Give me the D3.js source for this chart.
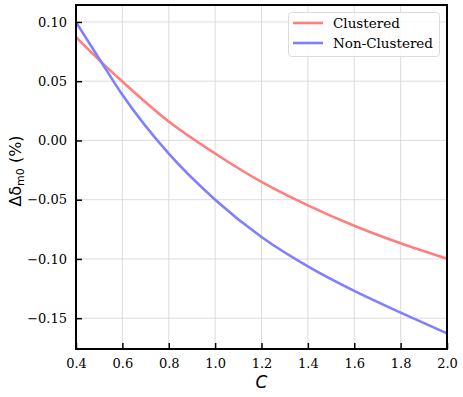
<!DOCTYPE html>
<html>
<head>
<meta charset="utf-8">
<script src="https://cdn.jsdelivr.net/npm/d3@7"></script>
<style>
  body { margin: 0; background: #fff; }
  svg { display: block; }
</style>
</head>
<body>
<div id="chart"></div>
<script>
// values
var cValues = [0.4, 0.5, 0.6, 0.8, 1.0, 1.2, 1.4, 1.6, 1.8, 2.0];
var clustered = [0.0871, 0.0678, 0.0497, 0.016, -0.011, -0.035, -0.0548, -0.072, -0.0868, -0.0998];
var nonClustered = [0.0998, 0.0690, 0.0385, -0.0112, -0.050, -0.0815, -0.1063, -0.127, -0.1453, -0.1628];
var seriesNames = ["Clustered", "Non-Clustered"];
var seriesColors = ["#ff7f7f", "#7f7fff"];
var xTicks = [0.4, 0.6, 0.8, 1.0, 1.2, 1.4, 1.6, 1.8, 2.0];
var yTicks = [-0.15, -0.10, -0.05, 0.00, 0.05, 0.10];

var width = 463, height = 397;
var m = {left: 76, right: 16, top: 5, bottom: 48};

var svg = d3.select("#chart").append("svg")
    .attr("width", width)
    .attr("height", height);

var x = d3.scaleLinear().domain([0.4, 2.0]).range([m.left, width - m.right]);
var y = d3.scaleLinear().domain([-0.176, 0.1143]).range([height - m.bottom, m.top]);

var serif = "'DejaVu Serif', serif";
var sans = "'DejaVu Sans', sans-serif";

// grid
svg.append("g").selectAll("line").data(xTicks).enter().append("line")
    .attr("x1", function(d) { return x(d); })
    .attr("x2", function(d) { return x(d); })
    .attr("y1", y.range()[0]).attr("y2", y.range()[1])
    .style("stroke", "#d3d3d3").style("stroke-width", 0.8);
svg.append("g").selectAll("line").data(yTicks).enter().append("line")
    .attr("y1", function(d) { return y(d); })
    .attr("y2", function(d) { return y(d); })
    .attr("x1", x.range()[0]).attr("x2", x.range()[1])
    .style("stroke", "#d3d3d3").style("stroke-width", 0.8);

// lines
var lineGen = d3.line()
    .x(function(d) { return x(d[0]); })
    .y(function(d) { return y(d[1]); })
    .curve(d3.curveMonotoneX);

var allSeries = [clustered, nonClustered];
svg.append("defs").append("clipPath").attr("id", "clip")
  .append("rect")
    .attr("x", m.left).attr("y", m.top)
    .attr("width", width - m.left - m.right)
    .attr("height", height - m.top - m.bottom);

svg.append("g").attr("clip-path", "url(#clip)")
  .selectAll("path").data(allSeries).enter().append("path")
    .attr("d", function(s) { return lineGen(s.map(function(v, i) { return [cValues[i], v]; })); })
    .style("fill", "none")
    .style("stroke", function(s, i) { return seriesColors[i]; })
    .style("stroke-width", 2.6);

// axes (ticks inward)
var fmt = function(d) { return d3.format(".2f")(d).replace("-", "\u2212"); };
var xAxis = svg.append("g")
    .attr("transform", "translate(0," + (height - m.bottom) + ")")
    .call(d3.axisBottom(x).tickValues(xTicks).tickSize(-6).tickPadding(10).tickFormat(d3.format(".1f")));
var yAxis = svg.append("g")
    .attr("transform", "translate(" + m.left + ",0)")
    .call(d3.axisLeft(y).tickValues(yTicks).tickSize(-6).tickPadding(9).tickFormat(fmt));

[xAxis, yAxis].forEach(function(a) {
  a.select(".domain").remove();
  a.selectAll(".tick line").style("stroke", "#000").style("stroke-width", 1.5);
  a.selectAll("text").style("font-family", serif).style("font-size", "13px").style("fill", "#000");
});

// frame
svg.append("rect")
    .attr("x", m.left).attr("y", m.top)
    .attr("width", width - m.left - m.right)
    .attr("height", height - m.top - m.bottom)
    .style("fill", "none").style("stroke", "#000").style("stroke-width", 2);

// axis labels
svg.append("text")
    .attr("x", (x.range()[0] + x.range()[1]) / 2)
    .attr("y", 388)
    .attr("text-anchor", "middle")
    .style("font-family", sans).style("font-style", "italic").style("font-size", "17px")
    .text("C");

var yl = svg.append("text")
    .attr("transform", "translate(21," + 171 + ") rotate(-90)")
    .attr("text-anchor", "middle")
    .style("font-family", sans).style("font-size", "16px");
yl.append("tspan").text("\u0394\u03b4");
yl.append("tspan").attr("dy", 3).style("font-size", "11px").text("m0");
yl.append("tspan").attr("dy", -3).text(" (%)");

// legend
var lg = svg.append("g");
lg.append("rect")
    .attr("x", 288.5).attr("y", 12.5).attr("width", 151).attr("height", 44)
    .attr("rx", 3)
    .style("fill", "rgba(255,255,255,0.85)").style("stroke", "#dcdcdc").style("stroke-width", 1);
seriesNames.forEach(function(name, i) {
  var ly = 23 + i * 20;
  lg.append("line")
      .attr("x1", 293).attr("x2", 323).attr("y1", ly).attr("y2", ly)
      .style("stroke", seriesColors[i]).style("stroke-width", 2.6);
  lg.append("text")
      .attr("x", 333).attr("y", ly + 4.5)
      .style("font-family", serif).style("font-size", "13.5px")
      .text(name);
});
</script>
</body>
</html>
